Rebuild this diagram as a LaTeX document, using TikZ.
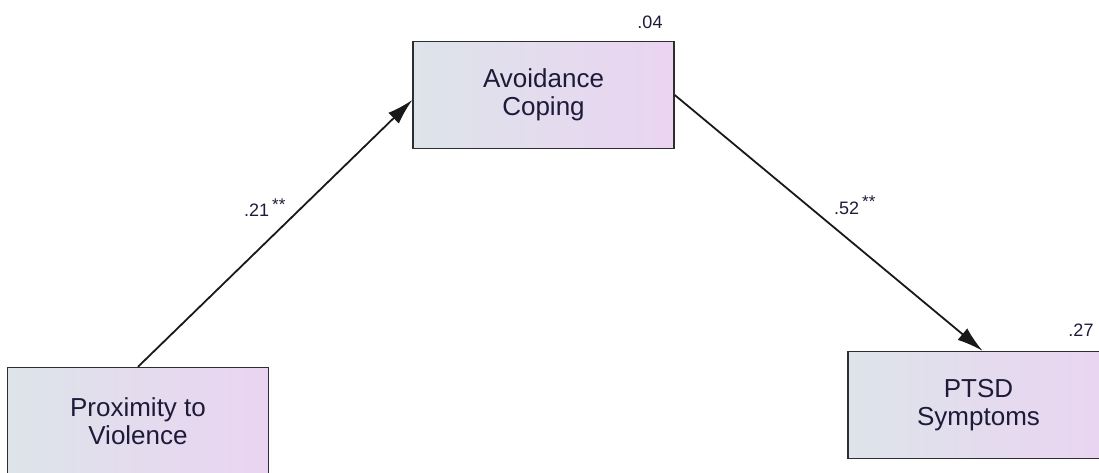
\documentclass[tikz,border=0pt]{standalone}
\usepackage{fontspec}
\setmainfont{Liberation Sans}
\usetikzlibrary{arrows.meta}
\definecolor{boxleft}{HTML}{DDE4EA}
\definecolor{boxright}{HTML}{EAD4F1}
\definecolor{boxline}{HTML}{2E2E2E}
\definecolor{txt}{HTML}{1E1B3A}
\tikzset{
  varbox/.style={draw=boxline, line width=1.4pt, left color=boxleft, right color=boxright,
    minimum width=261pt, minimum height=107pt, inner sep=0pt, align=center,
    text=txt, font=\fontsize{26}{28}\selectfont},
  coef/.style={font=\fontsize{18}{20}\selectfont, text=txt, inner sep=0pt},
  path/.style={line width=1.8pt, draw=black!90, -{Latex[length=26pt,width=15pt]}}
}
\begin{document}
\begin{tikzpicture}[x=1pt,y=-1pt]
\useasboundingbox (0,0) rectangle (1099,473);
\clip (0,0) rectangle (1099,473);
\node[varbox] (avoid) at (543.5,95) {Avoidance\\Coping};
\node[varbox] (prox) at (138,421) {Proximity to\\Violence};
\node[varbox] (ptsd) at (978.5,405) {PTSD\\Symptoms};
\node[coef, anchor=base east] (r1) at ([shift={(-12,-12)}]avoid.north east) {.04};
\node[coef, anchor=base east] (r2) at ([shift={(-16,-14)}]ptsd.north east) {.27};
\draw[path] (prox.north) -- ([yshift=-5pt]avoid.west);
\draw[path] (avoid.east) -- ([xshift=4pt]ptsd.north);
\node[coef, anchor=base west] (c1) at (244,216) {.21\hspace{3pt}\raisebox{6pt}{\fontsize{17}{17}\selectfont **}};
\node[coef, anchor=base west] (c2) at (834,214) {.52\hspace{3pt}\raisebox{6pt}{\fontsize{17}{17}\selectfont **}};
\end{tikzpicture}
\end{document}
